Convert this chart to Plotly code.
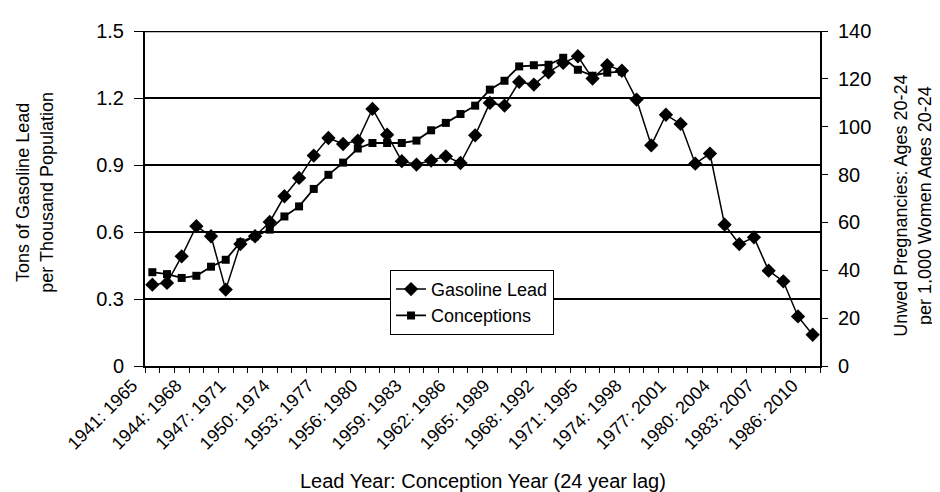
import plotly.graph_objects as go

lead_years = list(range(1941, 1987))
conception_years = [y + 24 for y in lead_years]
categories = [f"{a}: {b}" for a, b in zip(lead_years, conception_years)]

gasoline_lead = [0.364, 0.372, 0.491, 0.626, 0.581, 0.342, 0.546, 0.581, 0.645, 0.760,
                 0.842, 0.942, 1.021, 0.994, 1.009, 1.151, 1.036, 0.917, 0.902, 0.920,
                 0.939, 0.909, 1.033, 1.178, 1.166, 1.272, 1.260, 1.315, 1.357, 1.387,
                 1.287, 1.347, 1.322, 1.193, 0.988, 1.125, 1.084, 0.906, 0.951, 0.633,
                 0.546, 0.576, 0.427, 0.379, 0.222, 0.140]

conceptions = [39.2, 38.4, 36.8, 37.7, 41.5, 44.4, 51.7, 54.2, 57.0, 62.5,
               66.7, 74.0, 79.9, 85.0, 90.9, 93.2, 93.2, 93.2, 94.2, 98.5,
               101.6, 105.3, 108.8, 115.5, 119.2, 125.2, 125.7, 125.9, 128.8, 123.8,
               121.3, 122.6, 123.0]

tick_idx = list(range(0, len(categories), 3))
tick_text = [categories[i] for i in tick_idx]
left_ticks = [0, 0.3, 0.6, 0.9, 1.2, 1.5]
left_tick_text = ["0", "0.3", "0.6", "0.9", "1.2", "1.5"]
right_ticks = [0, 20, 40, 60, 80, 100, 120, 140]

FONT = "Liberation Sans, Arial, sans-serif"

fig = go.Figure()
fig.add_trace(go.Scatter(
    x=list(range(len(gasoline_lead))), y=gasoline_lead, name="Gasoline Lead",
    mode="lines+markers",
    line=dict(color="black", width=1.5),
    marker=dict(symbol="diamond", size=11, color="black"),
))
fig.add_trace(go.Scatter(
    x=list(range(len(conceptions))), y=conceptions, name="Conceptions",
    mode="lines+markers", yaxis="y2",
    line=dict(color="black", width=1.8),
    marker=dict(symbol="square", size=8, color="black"),
))

fig.update_layout(
    width=940, height=492,
    margin=dict(l=137, r=128, t=23, b=134),
    paper_bgcolor="white", plot_bgcolor="white",
    font=dict(family=FONT, size=18, color="black"),
    showlegend=True,
    legend=dict(x=0.363, y=0.287, xanchor="left", yanchor="top",
                bgcolor="white", bordercolor="black", borderwidth=1,
                font=dict(size=18), tracegroupgap=0),
    xaxis=dict(
        range=[-0.5, len(categories) - 0.5],
        tickmode="array", tickvals=tick_idx, ticktext=tick_text,
        tickangle=-45, ticks="", showgrid=False, zeroline=False,
        ticklabelshift=-20,
        showline=True, linecolor="black", linewidth=2, mirror=False,
        tickfont=dict(size=18),
        minor=dict(tickmode="array", tickvals=[k - 0.5 for k in range(len(categories) + 1)],
                   ticks="outside", ticklen=5, tickcolor="black", showgrid=False),
    ),
    yaxis=dict(
        range=[0, 1.5], tickmode="array", tickvals=left_ticks, ticktext=left_tick_text,
        ticks="outside", ticklen=9, tickcolor="black",
        ticklabelstandoff=6,
        showgrid=True, gridcolor="black", gridwidth=2,
        showline=True, linecolor="black", linewidth=2, zeroline=False,
        tickfont=dict(size=20),
    ),
    yaxis2=dict(
        range=[0, 140], tickmode="array", tickvals=right_ticks,
        overlaying="y", side="right",
        ticks="outside", ticklen=6, tickcolor="black",
        ticklabelstandoff=6,
        showgrid=False, zeroline=False,
        showline=True, linecolor="black", linewidth=2,
        tickfont=dict(size=20),
    ),
    annotations=[
        dict(text="Tons of Gasoline Lead<br>per Thousand Population", xref="paper", yref="paper",
             x=-0.163, y=0.52, xanchor="center", yanchor="middle",
             textangle=-90, showarrow=False, font=dict(size=18)),
        dict(text="Unwed Pregnancies: Ages 20-24<br>per 1,000 Women Ages 20-24", xref="paper", yref="paper",
             x=1.137, y=0.48, xanchor="center", yanchor="middle",
             textangle=-90, showarrow=False, font=dict(size=18)),
        dict(text="Lead Year: Conception Year (24 year lag)", xref="paper", yref="paper",
             x=0.5, y=-0.343, xanchor="center", yanchor="middle",
             showarrow=False, font=dict(size=20)),
    ],
)
fig.add_shape(type="line", xref="paper", yref="y", x0=0, x1=1, y0=1.5, y1=1.5,
              line=dict(color="black", width=2.5))

fig.write_html("out.html")
